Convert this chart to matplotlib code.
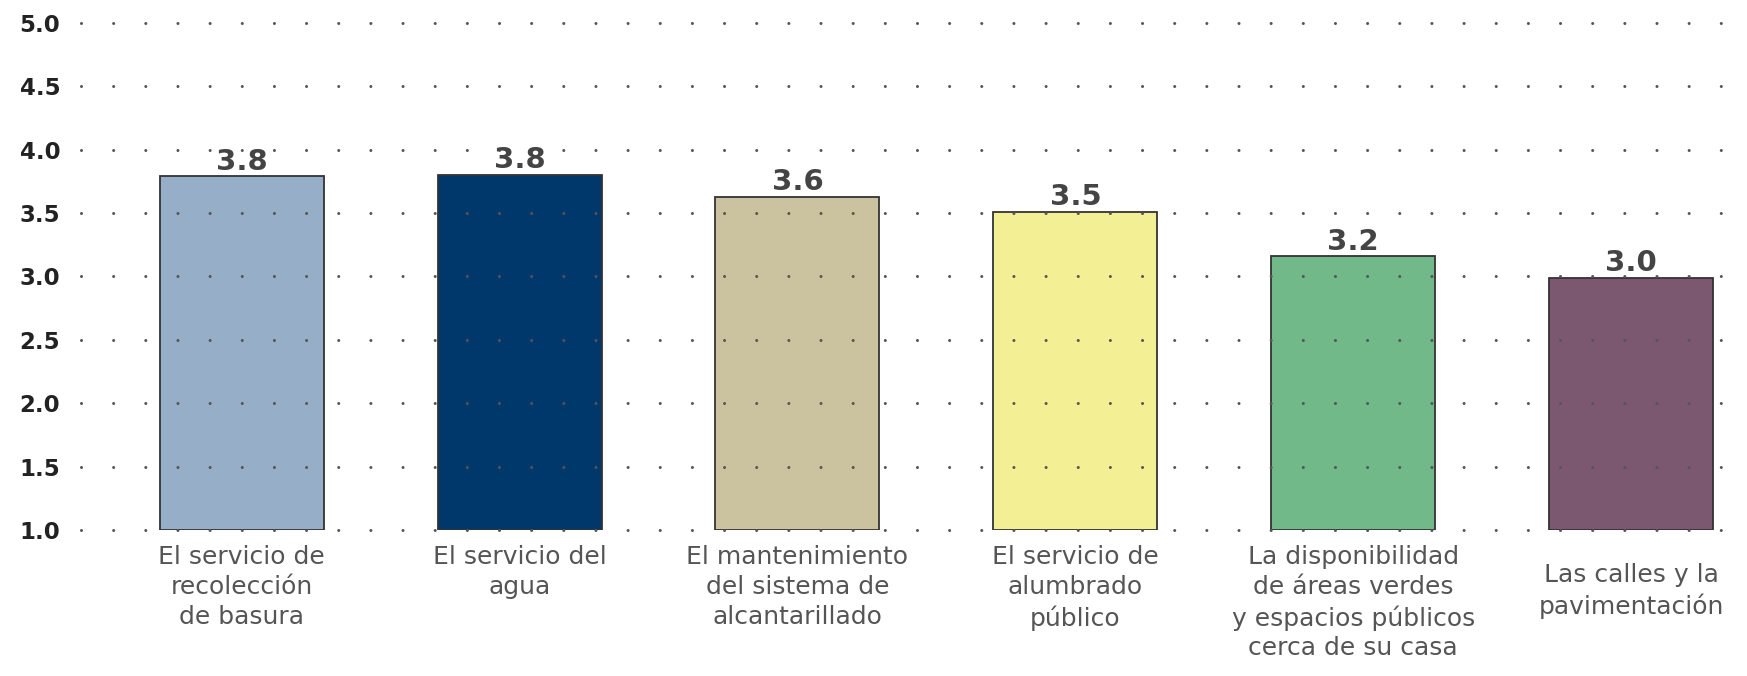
import matplotlib.pyplot as plt
import matplotlib.transforms as mtransforms

plt.rcParams['font.family'] = ['DejaVu Sans']
plt.rcParams['lines.scale_dashes'] = False

# Data
categories = [
    "El servicio de\nrecolección\nde basura",
    "El servicio del\nagua",
    "El mantenimiento\ndel sistema de\nalcantarillado",
    "El servicio de\nalumbrado\npúblico",
    "La disponibilidad\nde áreas verdes\ny espacios públicos\ncerca de su casa",
    "Las calles y la\npavimentación",
]
values = [3.79, 3.80, 3.63, 3.51, 3.16, 2.99]
value_labels = ["3.8", "3.8", "3.6", "3.5", "3.2", "3.0"]
colors = ["#97aec8", "#00386c", "#cbc3a0", "#f3ef95", "#72b98a", "#7b5770"]
yticks = [1.0, 1.5, 2.0, 2.5, 3.0, 3.5, 4.0, 4.5, 5.0]

fig = plt.figure(figsize=(17.47, 6.76), dpi=100)
ax = fig.add_axes([0.0464, 0.216, 0.9439, 0.75])

x = list(range(len(categories)))
ax.bar(x, [v - 1.0 for v in values], bottom=1.0, width=0.59,
       color=colors, edgecolor="#333333", linewidth=1.3, zorder=2)

for xi, v, lab in zip(x, values, value_labels):
    ax.text(xi, v + 0.005, lab, ha="center", va="bottom", fontsize=21,
            fontweight="bold", color="#444444", zorder=4)

ax.set_xlim(-0.578, 5.356)
ax.set_ylim(1.0, 5.0)
ax.set_yticks(yticks)
ax.set_yticklabels([f"{t:.1f}" for t in yticks], fontsize=16.5,
                   fontweight="bold", color="#222222")
ax.set_xticks(x)
ax.set_xticklabels(categories, fontsize=18, color="#555555",
                   linespacing=1.3, va="top")
ax.tick_params(axis="both", length=0)
ax.tick_params(axis="y", pad=15)
ax.tick_params(axis="x", pad=11)

# last label sits a bit lower in the original
lab = ax.get_xticklabels()[-1]
lab.set_transform(lab.get_transform() +
                  mtransforms.ScaledTranslation(0, -0.18, fig.dpi_scale_trans))

# dotted grid
ax.yaxis.grid(True, linestyle=(0, (0.01, 23.14)), linewidth=2.2,
              color="#555555", dash_capstyle="round", zorder=3, clip_on=False)
ax.set_axisbelow(False)
for s in ax.spines.values():
    s.set_visible(False)

plt.savefig("out.png", dpi=100)
